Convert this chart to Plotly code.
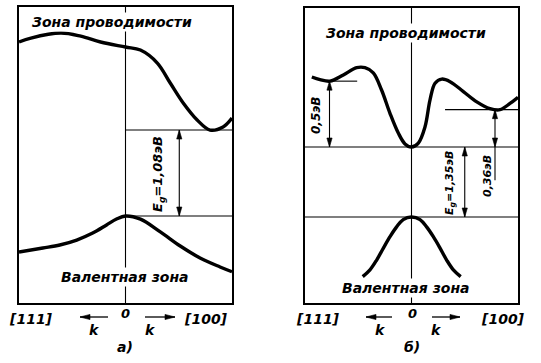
import plotly.graph_objects as go

W, H = 541, 363

# ---------------- Data ----------------
# k: -1 = [111] edge, 0 = centre, +1 = [100] edge
si_cond_k = [-1.0, -0.888, -0.607, -0.42, -0.234, 0.0, 0.14, 0.299, 0.42, 0.542, 0.673, 0.794, 0.916, 1.0]
si_cond_E = [2.186, 2.236, 2.299, 2.26, 2.186, 2.123, 2.085, 1.922, 1.671, 1.42, 1.206, 1.08, 1.118, 1.231]
si_val_k = [-1.0, -0.776, -0.617, -0.458, -0.308, -0.178, -0.084, 0.0, 0.14, 0.327, 0.514, 0.70, 0.888, 1.0]
si_val_E = [-0.452, -0.402, -0.364, -0.302, -0.214, -0.113, -0.038, 0.0, -0.04, -0.20, -0.377, -0.528, -0.64, -0.70]
si_Eg = 1.08

gaas_cond_k = [-0.936, -0.859, -0.765, -0.64, -0.515, -0.437, -0.359, -0.281, -0.202, -0.124, -0.061, 0.0,
               0.064, 0.127, 0.174, 0.221, 0.284, 0.362, 0.487, 0.613, 0.737, 0.831, 0.925, 1.0]
gaas_cond_E = [2.70, 2.65, 2.62, 2.74, 2.88, 2.88, 2.78, 2.45, 2.0, 1.62, 1.41, 1.35,
               1.426, 1.74, 2.26, 2.58, 2.66, 2.61, 2.42, 2.22, 2.09, 2.07, 2.19, 2.31]
gaas_val_k = [-0.458, -0.39, -0.327, -0.264, -0.202, -0.14, -0.078, 0.0,
              0.08, 0.142, 0.205, 0.268, 0.33, 0.393, 0.462]
gaas_val_E = [-1.15, -1.02, -0.83, -0.60, -0.38, -0.19, -0.05, 0.0,
              -0.05, -0.19, -0.38, -0.60, -0.83, -1.02, -1.15]
gaas_Eg = 1.35
gaas_L = 2.62      # drawn height of the [111] side valley
gaas_X = 2.07      # drawn height of the [100] side valley

label_cond = "Зона проводимости"
label_val = "Валентная зона"
label_si_gap = "E<sub>g</sub>=1,08эВ"
label_gaas_gap = "E<sub>g</sub>=1,35эВ"
label_L = "0,5эВ"
label_X = "0,36эВ"
dir_left = "[111]"
dir_right = "[100]"
panel_a = "а)"
panel_b = "б)"

# ---------------- Figure ----------------
fig = go.Figure()
curve = dict(color="black", width=3.4, shape="spline", smoothing=1.0)
fig.add_trace(go.Scatter(x=si_cond_k, y=si_cond_E, mode="lines", line=curve, xaxis="x", yaxis="y"))
fig.add_trace(go.Scatter(x=si_val_k, y=si_val_E, mode="lines", line=curve, xaxis="x", yaxis="y"))
fig.add_trace(go.Scatter(x=gaas_cond_k, y=gaas_cond_E, mode="lines", line=curve, xaxis="x2", yaxis="y2"))
fig.add_trace(go.Scatter(x=gaas_val_k, y=gaas_val_E, mode="lines", line=curve, xaxis="x2", yaxis="y2"))

def px(x):
    return x / W

def py(y):
    return 1 - y / H

axis_common = dict(showgrid=False, zeroline=False, showticklabels=False, ticks="",
                   showline=True, linecolor="black", linewidth=1.8, mirror=True, fixedrange=True)

fig.update_layout(
    width=W, height=H,
    margin=dict(l=0, r=0, t=0, b=0),
    paper_bgcolor="white", plot_bgcolor="white",
    showlegend=False,
    xaxis=dict(domain=[px(19), px(232)], range=[-1, 1], **axis_common),
    yaxis=dict(domain=[py(303), py(7)], range=[-1.093, 2.626], **axis_common),
    xaxis2=dict(domain=[px(305), px(518)], range=[-1, 1], anchor="y2", **axis_common),
    yaxis2=dict(domain=[py(303), py(8)], range=[-1.659, 4.031], anchor="x2", **axis_common),
)

thin = dict(color="black", width=1.1)
shapes = []
# centre lines
shapes.append(dict(type="line", xref="x", yref="y", x0=0, x1=0, y0=-1.093, y1=2.626, line=thin, layer="below"))
shapes.append(dict(type="line", xref="x2", yref="y2", x0=0, x1=0, y0=-1.659, y1=4.031, line=thin, layer="below"))
# Si levels
shapes.append(dict(type="line", xref="x", yref="y", x0=0, x1=1, y0=si_Eg, y1=si_Eg, line=thin))
shapes.append(dict(type="line", xref="x", yref="y", x0=0, x1=1, y0=0, y1=0, line=thin))
# GaAs levels
shapes.append(dict(type="line", xref="x2", yref="y2", x0=-1, x1=1, y0=gaas_Eg, y1=gaas_Eg, line=thin))
shapes.append(dict(type="line", xref="x2", yref="y2", x0=-1, x1=1, y0=0, y1=0, line=thin))
shapes.append(dict(type="line", xref="x2", yref="y2", x0=-0.775, x1=-0.51, y0=gaas_L, y1=gaas_L, line=thin))
shapes.append(dict(type="line", xref="x2", yref="y2", x0=0.315, x1=1, y0=gaas_X, y1=gaas_X, line=thin))
# extension of the 0,36 arrow below the gap line
shapes.append(dict(type="line", xref="x2", yref="y2", x0=0.784, x1=0.784, y0=gaas_Eg, y1=0.71, line=thin))

HEAD_UP = "M 0 0 L -2.6 -9 L 2.6 -9 Z"
HEAD_DOWN = "M 0 0 L -2.6 9 L 2.6 9 Z"
HEAD_LEFT = "M 0 0 L 10 -2.6 L 10 2.6 Z"
HEAD_RIGHT = "M 0 0 L -10 -2.6 L -10 2.6 Z"

def head(xr, yr, x, y, path):
    shapes.append(dict(type="path", xref=xr, yref=yr, xsizemode="pixel", ysizemode="pixel",
                       xanchor=x, yanchor=y, path=path, fillcolor="black",
                       line=dict(color="black", width=0.6)))

def darrow(xr, yr, x, ylow, yhigh):
    shapes.append(dict(type="line", xref=xr, yref=yr, x0=x, x1=x, y0=ylow, y1=yhigh, line=thin))
    head(xr, yr, x, yhigh, HEAD_UP)
    head(xr, yr, x, ylow, HEAD_DOWN)

darrow("x", "y", 0.505, 0.0, si_Eg)
darrow("x2", "y2", 0.50, 0.0, gaas_Eg)
darrow("x2", "y2", -0.77, gaas_Eg, gaas_L)
darrow("x2", "y2", 0.784, gaas_Eg, gaas_X)

def harrow(xtip, xtail, y):
    shapes.append(dict(type="line", xref="paper", yref="paper", x0=px(xtail), x1=px(xtip),
                       y0=py(y), y1=py(y), line=dict(color="black", width=1.3)))
    head("paper", "paper", px(xtip), py(y), HEAD_LEFT if xtip < xtail else HEAD_RIGHT)

harrow(80, 108, 317)
harrow(175, 145, 317)
harrow(366, 392, 317)
harrow(460, 432, 317)

fig.update_layout(shapes=shapes)

ann = []
FONT = "DejaVu Sans"

def text(t, x, y, size=14, angle=0, bg=None):
    d = dict(xref="paper", yref="paper", x=px(x), y=py(y), text=t, showarrow=False,
             xanchor="center", yanchor="middle", textangle=angle,
             font=dict(family=FONT, size=size, color="black", style="italic", weight="bold"))
    if bg:
        d["bgcolor"] = bg
        d["borderpad"] = 1
    ann.append(d)

text(label_cond, 112, 22, 14, bg="white")
text(label_cond, 406, 33, 14, bg="white")
text(label_val, 125, 277, 14, bg="white")
text(label_val, 406, 288, 14, bg="white")
text(label_si_gap, 159, 174, 13, angle=-90)
text(label_gaas_gap, 450, 183, 11, angle=-90)
text(label_L, 316, 115, 12, angle=-90)
text(label_X, 487, 176, 11, angle=-90)

for cx in (31, 318):
    text(dir_left, cx, 319, 14)
for cx in (206, 503):
    text(dir_right, cx, 319, 14)
for cx, lab in ((125, panel_a), (412, panel_b)):
    text("0", cx, 313, 13)
    text(lab, cx, 347, 14)
for kx in (94, 150, 380, 436):
    text("k", kx, 330, 14)

fig.update_layout(annotations=ann)
fig.write_html("out.html", config={"displayModeBar": False},
               post_script="document.body.style.margin='0px';")
